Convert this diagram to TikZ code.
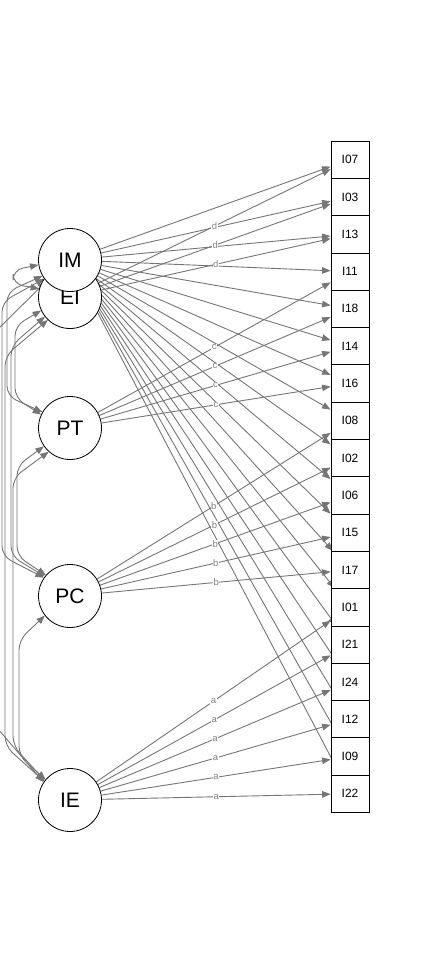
\documentclass[tikz,border=0pt]{standalone}
\usepackage{fontspec}
\setmainfont{Liberation Sans}
\usetikzlibrary{arrows.meta}
\pgfdeclarelayer{background}
\pgfdeclarelayer{labels}
\pgfsetlayers{background,labels,main}
\definecolor{edgecol}{RGB}{118,118,118}
\definecolor{lblcol}{RGB}{128,128,128}
\begin{document}
\begin{tikzpicture}[x=1pt,y=-1pt,
  latent/.style={circle,draw=black,fill=white,line width=0.8pt,minimum size=63pt,inner sep=0pt,font=\fontsize{21}{21}\selectfont},
  manifest/.style={rectangle,draw=black,fill=white,line width=0.8pt,minimum width=38pt,minimum height=37.3pt,inner sep=0pt,font=\fontsize{12}{12}\selectfont},
  load/.style={draw=edgecol,line width=0.9pt,-{Triangle[length=8.5pt,width=6.5pt,fill=edgecol]}},
  cov/.style={draw=edgecol,line width=0.9pt,{Triangle[length=8.5pt,width=6.5pt,fill=edgecol]}-{Triangle[length=8.5pt,width=6.5pt,fill=edgecol]},rounded corners=10pt},
  lbl/.style={fill=white,text=lblcol,inner sep=0.5pt,font=\fontsize{9.5}{9.5}\selectfont}
]
\useasboundingbox (0,0) rectangle (420,960);

% latent variables (EI below IM)
\node[latent] (EI) at (70,297) {EI};
\node[latent] (IM) at (70,260) {IM};
\node[latent] (PT) at (70,428) {PT};
\node[latent] (PC) at (70,596) {PC};
\node[latent] (IE) at (70,800) {IE};

% indicators
\foreach \n [count=\i from 0] in {I07,I03,I13,I11,I18,I14,I16,I08,I02,I06,I15,I17,I01,I21,I24,I12,I09,I22}
  \node[manifest] (\n) at (350,{159.65+37.3*\i}) {\n};

\begin{pgfonlayer}{background}
  \fill[white] (0,0) rectangle (420,960);
  \clip (0,0) rectangle (420,960);
  % general factor
  \foreach \n in {I07,I03,I13,I11,I18,I14,I16,I08,I02,I06,I15,I17,I01,I21,I24,I12,I09,I22}
    \draw[load] (IM) -- (\n);
  % specific factors
  \foreach \n in {I07,I03,I13} \draw[load] (EI) -- (\n);
  \foreach \n in {I11,I18,I14,I16} \draw[load] (PT) -- (\n);
  \foreach \n in {I08,I02,I06,I15,I17} \draw[load] (PC) -- (\n);
  \foreach \n in {I01,I21,I24,I12,I09,I22} \draw[load] (IE) -- (\n);
  % covariances
  \draw[cov] (IM.189) -- (13,270) -- (13,284) -- (EI.165);
  \draw[cov] (IM.210) -- (7,292) -- (7,396) -- (PT.150);
  \draw[cov] (EI.205) -- (15,326) -- (15,398) -- (PT.155);
  \draw[cov] (IM.216) -- (2,302) -- (2,556) -- (PC.145);
  \draw[cov] (EI.218) -- (11,346) -- (11,556) -- (PC.142);
  \draw[cov] (PT.215) -- (17,466) -- (17,556) -- (PC.139);
  \draw[cov] (IM.222) -- (-8,335) -- (-8,722) -- (IE.146);
  \draw[cov] (EI.226) -- (5,356) -- (5,746) -- (IE.144);
  \draw[cov] (PT.228) -- (13,478) -- (13,746) -- (IE.142);
  \draw[cov] (PC.218) -- (19,640) -- (19,756) -- (IE.140);
\end{pgfonlayer}

\begin{pgfonlayer}{labels}
  \foreach \n in {I07,I03,I13} \path (EI) -- (\n) node[midway,lbl] {d};
  \foreach \n in {I11,I18,I14,I16} \path (PT) -- (\n) node[midway,lbl] {c};
  \foreach \n in {I08,I02,I06,I15,I17} \path (PC) -- (\n) node[midway,lbl] {b};
  \foreach \n in {I01,I21,I24,I12,I09,I22} \path (IE) -- (\n) node[midway,lbl] {a};
\end{pgfonlayer}
\end{tikzpicture}
\end{document}
